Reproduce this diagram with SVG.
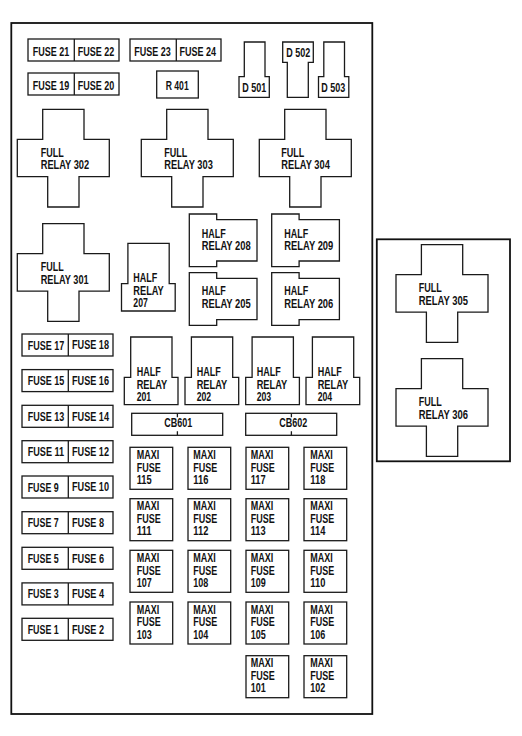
<svg xmlns="http://www.w3.org/2000/svg" xmlns:xlink="http://www.w3.org/1999/xlink" width="522" height="736" viewBox="0 0 522 736">
<style>
.s{fill:#fff;stroke:#1a1a1a;stroke-width:1.3}
.o{fill:none;stroke:#111;stroke-width:1.8}
text{font-family:"Liberation Sans",Arial,sans-serif;font-weight:700;font-size:12px;fill:#111}
</style>
<defs>
<path id="full" class="s" d="M25.4 0H66.7V30H92V67.4H61.7V97.7H30.4V67.4H0V30H25.4Z"/>
<path id="halfs" class="s" d="M0 0H27.4V5.7H67.7V47H27.4V52.7H0Z"/>
<path id="halfu" class="s" d="M6.4 0H47.7V40.3H53.7V67.7H0V40.3H6.4Z"/>
<path id="dup" class="s" d="M5.3 0H26V34.7H30.3V55.3H0V34.7H5.3Z"/>
<g id="fuse"><rect class="s" width="91" height="22"/><path class="s" d="M46.3 0V22"/></g>
<rect id="maxi" class="s" width="42.7" height="42"/>
<g id="cb"><rect class="s" width="91" height="22"/><path class="s" d="M45.7 0V4M45.7 18V22"/></g>
</defs>
<rect x="0" y="0" width="522" height="736" fill="#fff"/>
<rect id="panel-main" class="o" x="11.3" y="23" width="361" height="691"/>
<rect id="panel-side" class="o" x="376.8" y="239.3" width="133.2" height="222"/>

<g id="fuse-21-22"><use xlink:href="#fuse" x="28" y="39"/><text x="32.7" y="56" textLength="36.5" lengthAdjust="spacingAndGlyphs">FUSE 21</text><text x="77.7" y="55.6" textLength="36.5" lengthAdjust="spacingAndGlyphs">FUSE 22</text></g>
<g id="fuse-23-24"><use xlink:href="#fuse" x="130" y="39"/><text x="134.3" y="55.7" textLength="36.5" lengthAdjust="spacingAndGlyphs">FUSE 23</text><text x="179.5" y="55.6" textLength="36.5" lengthAdjust="spacingAndGlyphs">FUSE 24</text></g>
<g id="fuse-19-20"><use xlink:href="#fuse" x="28" y="73"/><text x="32.7" y="90" textLength="36.5" lengthAdjust="spacingAndGlyphs">FUSE 19</text><text x="77.7" y="89.6" textLength="36.5" lengthAdjust="spacingAndGlyphs">FUSE 20</text></g>
<g id="r-401"><rect class="s" x="156.7" y="71" width="41.6" height="27"/><text x="165.7" y="90" textLength="23" lengthAdjust="spacingAndGlyphs">R 401</text></g>
<g id="d-501"><use xlink:href="#dup" x="239" y="42"/><text x="242.3" y="92" textLength="24" lengthAdjust="spacingAndGlyphs">D 501</text></g>
<g id="d-502"><path class="s" d="M282.7 42H313.3V62.3H308.3V97.3H287.3V62.3H282.7Z"/><text x="286.3" y="56.7" textLength="24" lengthAdjust="spacingAndGlyphs">D 502</text></g>
<g id="d-503"><use xlink:href="#dup" x="318.5" y="42"/><text x="321.3" y="92" textLength="24" lengthAdjust="spacingAndGlyphs">D 503</text></g>

<g id="relay-302"><use xlink:href="#full" x="17.3" y="109.3"/><text><tspan x="40.7" y="157" textLength="23" lengthAdjust="spacingAndGlyphs">FULL</tspan><tspan x="40.7" y="169.3" textLength="48.5" lengthAdjust="spacingAndGlyphs">RELAY 302</tspan></text></g>
<g id="relay-303"><use xlink:href="#full" x="141.3" y="109.3"/><text><tspan x="164.3" y="157" textLength="23" lengthAdjust="spacingAndGlyphs">FULL</tspan><tspan x="164.3" y="169.3" textLength="48.5" lengthAdjust="spacingAndGlyphs">RELAY 303</tspan></text></g>
<g id="relay-304"><use xlink:href="#full" x="259.3" y="109.3"/><text><tspan x="281.3" y="157" textLength="23" lengthAdjust="spacingAndGlyphs">FULL</tspan><tspan x="281.3" y="169.3" textLength="48.5" lengthAdjust="spacingAndGlyphs">RELAY 304</tspan></text></g>
<g id="relay-301"><use xlink:href="#full" x="17.3" y="223.7"/><text><tspan x="40.7" y="271" textLength="23" lengthAdjust="spacingAndGlyphs">FULL</tspan><tspan x="40.7" y="283.7" textLength="48" lengthAdjust="spacingAndGlyphs">RELAY 301</tspan></text></g>
<g id="relay-305"><use xlink:href="#full" x="396" y="244.7"/><text><tspan x="418.7" y="292" textLength="23" lengthAdjust="spacingAndGlyphs">FULL</tspan><tspan x="418.7" y="305" textLength="49.3" lengthAdjust="spacingAndGlyphs">RELAY 305</tspan></text></g>
<g id="relay-306"><use xlink:href="#full" x="396" y="358.7"/><text><tspan x="418.7" y="406" textLength="23" lengthAdjust="spacingAndGlyphs">FULL</tspan><tspan x="418.7" y="419" textLength="49.3" lengthAdjust="spacingAndGlyphs">RELAY 306</tspan></text></g>

<g id="relay-207"><use xlink:href="#halfu" x="121.5" y="243.3"/><text><tspan x="133.3" y="282" textLength="24" lengthAdjust="spacingAndGlyphs">HALF</tspan><tspan x="133.3" y="295" textLength="30.5" lengthAdjust="spacingAndGlyphs">RELAY</tspan><tspan x="133.3" y="307.3" textLength="14.5" lengthAdjust="spacingAndGlyphs">207</tspan></text></g>
<g id="relay-208"><use xlink:href="#halfs" x="189.3" y="214"/><text><tspan x="201.7" y="237.7" textLength="24" lengthAdjust="spacingAndGlyphs">HALF</tspan><tspan x="201.7" y="250.3" textLength="49" lengthAdjust="spacingAndGlyphs">RELAY 208</tspan></text></g>
<g id="relay-209"><use xlink:href="#halfs" x="271.7" y="214"/><text><tspan x="284.3" y="237.7" textLength="24" lengthAdjust="spacingAndGlyphs">HALF</tspan><tspan x="284.3" y="250.3" textLength="49" lengthAdjust="spacingAndGlyphs">RELAY 209</tspan></text></g>
<g id="relay-205"><use xlink:href="#halfs" x="189.3" y="272.7"/><text><tspan x="201.7" y="295" textLength="24" lengthAdjust="spacingAndGlyphs">HALF</tspan><tspan x="201.7" y="308.3" textLength="49" lengthAdjust="spacingAndGlyphs">RELAY 205</tspan></text></g>
<g id="relay-206"><use xlink:href="#halfs" x="271.7" y="272.7"/><text><tspan x="284.3" y="295" textLength="24" lengthAdjust="spacingAndGlyphs">HALF</tspan><tspan x="284.3" y="308.3" textLength="49" lengthAdjust="spacingAndGlyphs">RELAY 206</tspan></text></g>

<g id="relay-201"><use xlink:href="#halfu" x="124.3" y="337"/><text><tspan x="136.7" y="376" textLength="24" lengthAdjust="spacingAndGlyphs">HALF</tspan><tspan x="136.7" y="388.7" textLength="30.5" lengthAdjust="spacingAndGlyphs">RELAY</tspan><tspan x="136.7" y="401.3" textLength="14.5" lengthAdjust="spacingAndGlyphs">201</tspan></text></g>
<g id="relay-202"><use xlink:href="#halfu" x="185" y="337"/><text><tspan x="196.7" y="376" textLength="24" lengthAdjust="spacingAndGlyphs">HALF</tspan><tspan x="196.7" y="388.7" textLength="30.5" lengthAdjust="spacingAndGlyphs">RELAY</tspan><tspan x="196.7" y="401.3" textLength="14.5" lengthAdjust="spacingAndGlyphs">202</tspan></text></g>
<g id="relay-203"><use xlink:href="#halfu" x="245.7" y="337"/><text><tspan x="256.7" y="376" textLength="24" lengthAdjust="spacingAndGlyphs">HALF</tspan><tspan x="256.7" y="388.7" textLength="30.5" lengthAdjust="spacingAndGlyphs">RELAY</tspan><tspan x="256.7" y="401.3" textLength="14.5" lengthAdjust="spacingAndGlyphs">203</tspan></text></g>
<g id="relay-204"><use xlink:href="#halfu" x="306" y="337"/><text><tspan x="317.7" y="376" textLength="24" lengthAdjust="spacingAndGlyphs">HALF</tspan><tspan x="317.7" y="388.7" textLength="30.5" lengthAdjust="spacingAndGlyphs">RELAY</tspan><tspan x="317.7" y="401.3" textLength="14.5" lengthAdjust="spacingAndGlyphs">204</tspan></text></g>

<g id="cb-601"><use xlink:href="#cb" x="131.7" y="413.3"/><text x="164.3" y="427.3" textLength="28" lengthAdjust="spacingAndGlyphs">CB601</text></g>
<g id="cb-602"><use xlink:href="#cb" x="245.7" y="413.3"/><text x="279.3" y="427.3" textLength="28" lengthAdjust="spacingAndGlyphs">CB602</text></g>

<g id="fuse-17-18"><use xlink:href="#fuse" x="22" y="334"/><text x="27.7" y="349.5" textLength="36.5" lengthAdjust="spacingAndGlyphs">FUSE 17</text><text x="72" y="349.2" textLength="37" lengthAdjust="spacingAndGlyphs">FUSE 18</text></g>
<g id="fuse-15-16"><use xlink:href="#fuse" x="22" y="369.6"/><text x="27.7" y="385" textLength="36.5" lengthAdjust="spacingAndGlyphs">FUSE 15</text><text x="72" y="384.7" textLength="37" lengthAdjust="spacingAndGlyphs">FUSE 16</text></g>
<g id="fuse-13-14"><use xlink:href="#fuse" x="22" y="405.3"/><text x="27.7" y="420.8" textLength="36.5" lengthAdjust="spacingAndGlyphs">FUSE 13</text><text x="72" y="420.5" textLength="37" lengthAdjust="spacingAndGlyphs">FUSE 14</text></g>
<g id="fuse-11-12"><use xlink:href="#fuse" x="22" y="440.7"/><text x="27.7" y="456.2" textLength="36.5" lengthAdjust="spacingAndGlyphs">FUSE 11</text><text x="72" y="455.9" textLength="37" lengthAdjust="spacingAndGlyphs">FUSE 12</text></g>
<g id="fuse-9-10"><use xlink:href="#fuse" x="22" y="476"/><text x="27.7" y="491.5" textLength="31" lengthAdjust="spacingAndGlyphs">FUSE 9</text><text x="72" y="491.2" textLength="37" lengthAdjust="spacingAndGlyphs">FUSE 10</text></g>
<g id="fuse-7-8"><use xlink:href="#fuse" x="22" y="511.7"/><text x="27.7" y="527.2" textLength="31" lengthAdjust="spacingAndGlyphs">FUSE 7</text><text x="72" y="526.9" textLength="32" lengthAdjust="spacingAndGlyphs">FUSE 8</text></g>
<g id="fuse-5-6"><use xlink:href="#fuse" x="22" y="547.3"/><text x="27.7" y="562.8" textLength="31" lengthAdjust="spacingAndGlyphs">FUSE 5</text><text x="72" y="562.5" textLength="32" lengthAdjust="spacingAndGlyphs">FUSE 6</text></g>
<g id="fuse-3-4"><use xlink:href="#fuse" x="22" y="582.9"/><text x="27.7" y="598.4" textLength="31" lengthAdjust="spacingAndGlyphs">FUSE 3</text><text x="72" y="598.1" textLength="32" lengthAdjust="spacingAndGlyphs">FUSE 4</text></g>
<g id="fuse-1-2"><use xlink:href="#fuse" x="22" y="618.3"/><text x="27.7" y="633.8" textLength="31" lengthAdjust="spacingAndGlyphs">FUSE 1</text><text x="72" y="633.5" textLength="32" lengthAdjust="spacingAndGlyphs">FUSE 2</text></g>

<g id="maxi-115"><use xlink:href="#maxi" x="130" y="447.3"/><text><tspan x="136.7" y="459" textLength="22.5" lengthAdjust="spacingAndGlyphs">MAXI</tspan><tspan x="136.7" y="471.6" textLength="24" lengthAdjust="spacingAndGlyphs">FUSE</tspan><tspan x="136.7" y="484" textLength="15" lengthAdjust="spacingAndGlyphs">115</tspan></text></g>
<g id="maxi-116"><use xlink:href="#maxi" x="188" y="447.3"/><text><tspan x="193.3" y="459" textLength="22.5" lengthAdjust="spacingAndGlyphs">MAXI</tspan><tspan x="193.3" y="471.6" textLength="24" lengthAdjust="spacingAndGlyphs">FUSE</tspan><tspan x="193.3" y="484" textLength="15" lengthAdjust="spacingAndGlyphs">116</tspan></text></g>
<g id="maxi-117"><use xlink:href="#maxi" x="246" y="447.3"/><text><tspan x="250.7" y="459" textLength="22.5" lengthAdjust="spacingAndGlyphs">MAXI</tspan><tspan x="250.7" y="471.6" textLength="24" lengthAdjust="spacingAndGlyphs">FUSE</tspan><tspan x="250.7" y="484" textLength="15" lengthAdjust="spacingAndGlyphs">117</tspan></text></g>
<g id="maxi-118"><use xlink:href="#maxi" x="304" y="447.3"/><text><tspan x="310.3" y="459" textLength="22.5" lengthAdjust="spacingAndGlyphs">MAXI</tspan><tspan x="310.3" y="471.6" textLength="24" lengthAdjust="spacingAndGlyphs">FUSE</tspan><tspan x="310.3" y="484" textLength="15" lengthAdjust="spacingAndGlyphs">118</tspan></text></g>

<g id="maxi-111"><use xlink:href="#maxi" x="130" y="498.7"/><text><tspan x="136.7" y="510.4" textLength="22.5" lengthAdjust="spacingAndGlyphs">MAXI</tspan><tspan x="136.7" y="523" textLength="24" lengthAdjust="spacingAndGlyphs">FUSE</tspan><tspan x="136.7" y="535.4" textLength="15" lengthAdjust="spacingAndGlyphs">111</tspan></text></g>
<g id="maxi-112"><use xlink:href="#maxi" x="188" y="498.7"/><text><tspan x="193.3" y="510.4" textLength="22.5" lengthAdjust="spacingAndGlyphs">MAXI</tspan><tspan x="193.3" y="523" textLength="24" lengthAdjust="spacingAndGlyphs">FUSE</tspan><tspan x="193.3" y="535.4" textLength="15" lengthAdjust="spacingAndGlyphs">112</tspan></text></g>
<g id="maxi-113"><use xlink:href="#maxi" x="246" y="498.7"/><text><tspan x="250.7" y="510.4" textLength="22.5" lengthAdjust="spacingAndGlyphs">MAXI</tspan><tspan x="250.7" y="523" textLength="24" lengthAdjust="spacingAndGlyphs">FUSE</tspan><tspan x="250.7" y="535.4" textLength="15" lengthAdjust="spacingAndGlyphs">113</tspan></text></g>
<g id="maxi-114"><use xlink:href="#maxi" x="304" y="498.7"/><text><tspan x="310.3" y="510.4" textLength="22.5" lengthAdjust="spacingAndGlyphs">MAXI</tspan><tspan x="310.3" y="523" textLength="24" lengthAdjust="spacingAndGlyphs">FUSE</tspan><tspan x="310.3" y="535.4" textLength="15" lengthAdjust="spacingAndGlyphs">114</tspan></text></g>

<g id="maxi-107"><use xlink:href="#maxi" x="130" y="550.3"/><text><tspan x="136.7" y="562" textLength="22.5" lengthAdjust="spacingAndGlyphs">MAXI</tspan><tspan x="136.7" y="574.6" textLength="24" lengthAdjust="spacingAndGlyphs">FUSE</tspan><tspan x="136.7" y="587" textLength="15" lengthAdjust="spacingAndGlyphs">107</tspan></text></g>
<g id="maxi-108"><use xlink:href="#maxi" x="188" y="550.3"/><text><tspan x="193.3" y="562" textLength="22.5" lengthAdjust="spacingAndGlyphs">MAXI</tspan><tspan x="193.3" y="574.6" textLength="24" lengthAdjust="spacingAndGlyphs">FUSE</tspan><tspan x="193.3" y="587" textLength="15" lengthAdjust="spacingAndGlyphs">108</tspan></text></g>
<g id="maxi-109"><use xlink:href="#maxi" x="246" y="550.3"/><text><tspan x="250.7" y="562" textLength="22.5" lengthAdjust="spacingAndGlyphs">MAXI</tspan><tspan x="250.7" y="574.6" textLength="24" lengthAdjust="spacingAndGlyphs">FUSE</tspan><tspan x="250.7" y="587" textLength="15" lengthAdjust="spacingAndGlyphs">109</tspan></text></g>
<g id="maxi-110"><use xlink:href="#maxi" x="304" y="550.3"/><text><tspan x="310.3" y="562" textLength="22.5" lengthAdjust="spacingAndGlyphs">MAXI</tspan><tspan x="310.3" y="574.6" textLength="24" lengthAdjust="spacingAndGlyphs">FUSE</tspan><tspan x="310.3" y="587" textLength="15" lengthAdjust="spacingAndGlyphs">110</tspan></text></g>

<g id="maxi-103"><use xlink:href="#maxi" x="130" y="602"/><text><tspan x="136.7" y="613.7" textLength="22.5" lengthAdjust="spacingAndGlyphs">MAXI</tspan><tspan x="136.7" y="626.3" textLength="24" lengthAdjust="spacingAndGlyphs">FUSE</tspan><tspan x="136.7" y="638.7" textLength="15" lengthAdjust="spacingAndGlyphs">103</tspan></text></g>
<g id="maxi-104"><use xlink:href="#maxi" x="188" y="602"/><text><tspan x="193.3" y="613.7" textLength="22.5" lengthAdjust="spacingAndGlyphs">MAXI</tspan><tspan x="193.3" y="626.3" textLength="24" lengthAdjust="spacingAndGlyphs">FUSE</tspan><tspan x="193.3" y="638.7" textLength="15" lengthAdjust="spacingAndGlyphs">104</tspan></text></g>
<g id="maxi-105"><use xlink:href="#maxi" x="246" y="602"/><text><tspan x="250.7" y="613.7" textLength="22.5" lengthAdjust="spacingAndGlyphs">MAXI</tspan><tspan x="250.7" y="626.3" textLength="24" lengthAdjust="spacingAndGlyphs">FUSE</tspan><tspan x="250.7" y="638.7" textLength="15" lengthAdjust="spacingAndGlyphs">105</tspan></text></g>
<g id="maxi-106"><use xlink:href="#maxi" x="304" y="602"/><text><tspan x="310.3" y="613.7" textLength="22.5" lengthAdjust="spacingAndGlyphs">MAXI</tspan><tspan x="310.3" y="626.3" textLength="24" lengthAdjust="spacingAndGlyphs">FUSE</tspan><tspan x="310.3" y="638.7" textLength="15" lengthAdjust="spacingAndGlyphs">106</tspan></text></g>

<g id="maxi-101"><use xlink:href="#maxi" x="246" y="655.7"/><text><tspan x="250.7" y="667.4" textLength="22.5" lengthAdjust="spacingAndGlyphs">MAXI</tspan><tspan x="250.7" y="680" textLength="24" lengthAdjust="spacingAndGlyphs">FUSE</tspan><tspan x="250.7" y="692.4" textLength="15" lengthAdjust="spacingAndGlyphs">101</tspan></text></g>
<g id="maxi-102"><use xlink:href="#maxi" x="304" y="655.7"/><text><tspan x="310.3" y="667.4" textLength="22.5" lengthAdjust="spacingAndGlyphs">MAXI</tspan><tspan x="310.3" y="680" textLength="24" lengthAdjust="spacingAndGlyphs">FUSE</tspan><tspan x="310.3" y="692.4" textLength="15" lengthAdjust="spacingAndGlyphs">102</tspan></text></g>
</svg>
